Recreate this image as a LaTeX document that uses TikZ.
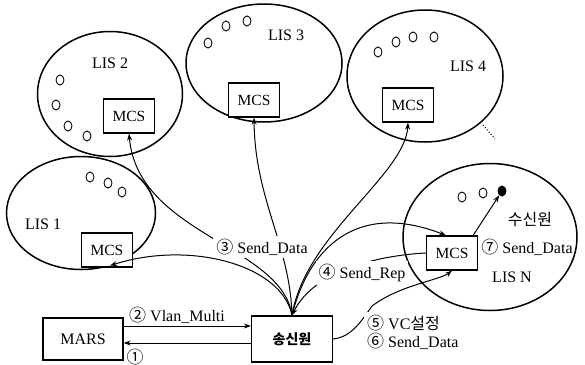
\documentclass[tikz,border=0pt]{standalone}
\usepackage{fontspec}
\setmainfont{Liberation Serif}
\newfontfamily\cjk{Noto Sans CJK KR}
\newcommand\cnum[1]{{\cjk\fontsize{17}{17}\selectfont #1}}
\usetikzlibrary{shapes.geometric,arrows.meta}

\begin{document}
\begin{tikzpicture}[x=1pt,y=-1pt,
  lis/.style={draw,ellipse,line width=1.5pt,inner sep=0pt},
  mcs/.style={draw,line width=1.2pt,fill=white,minimum width=51pt,minimum height=34pt,inner sep=0pt,font=\fontsize{15.5}{17}\selectfont},
  box/.style={draw,line width=1.2pt,fill=white,inner sep=0pt,font=\fontsize{16}{17}\selectfont},
  host/.style={draw,ellipse,line width=.9pt,minimum width=8pt,minimum height=10pt,inner sep=0pt},
  lbl/.style={font=\fontsize{16}{18}\selectfont,inner sep=1pt},
  msg/.style={lbl,fill=white,inner sep=3pt},
  arr/.style={line width=1pt,-{Stealth[length=7pt,width=5pt]}},
  ln/.style={line width=1pt}]
            \useasboundingbox (0,0) rectangle (585,364);
            \node[lis,minimum width=145pt,minimum height=125pt] (lis2) at (110,94) {};
            \node[lis,minimum width=156pt,minimum height=118pt] (lis3) at (264,63) {};
            \node[lis,minimum width=156pt,minimum height=132pt] (lis4) at (425,76) {};
            \node[lis,minimum width=149pt,minimum height=113pt] (lis1) at (81,213) {};
            \node[lis,minimum width=174pt,minimum height=147pt] (lisn) at (490,237) {};
            \draw[dotted,line width=1pt] (483,125) -- (495,139);
            \foreach \p [count=\i] in {(60,80),(56,105),(68,126),(87,136)}
                \node[host] (h2\i) at \p {};
            \foreach \p [count=\i] in {(208,43),(226,26),(247,21)}
                \node[host] (h3\i) at \p {};
            \foreach \p [count=\i] in {(378,52),(396,42),(413,37),(434,37)}
                \node[host] (h4\i) at \p {};
            \foreach \p [count=\i] in {(90,177),(108,183),(122,192)}
                \node[host] (h1\i) at \p {};
            \foreach \p [count=\i] in {(462,197),(483,193)}
                \node[host] (hn\i) at \p {};
            \node[host,fill=black] (rcv) at (502,191) {};
            \node[lbl] (t2) at (110,63) {LIS 2};
            \node[lbl] (t3) at (286,35) {LIS 3};
            \node[lbl] (t4) at (468,66) {LIS 4};
            \node[lbl] (t1) at (43,224) {LIS 1};
            \node[lbl] (tn) at (512,277) {LIS N};
            \node[lbl] (trcv) at (530,220) {\cjk 수신원};
            \node[mcs] (m2) at (129,116) {MCS};
            \node[mcs] (m3) at (254,100) {MCS};
            \node[mcs] (m4) at (408,105) {MCS};
            \node[mcs] (m1) at (107,250) {MCS};
            \node[mcs] (mn) at (452,253) {MCS};
            \node[box,minimum width=80pt,minimum height=42pt] (mars) at (83,339) {MARS};
            \node[box,minimum width=81pt,minimum height=46pt,font=\fontsize{14}{16}\selectfont] (snd) at (292,339) {\cjk\bfseries 송신원};
            \draw[arr] (snd.north) .. controls (282,245) and (138,235) .. (m2.south);
            \draw[arr] (snd.north) .. controls (290,245) and (255,200) .. (m3.south);
            \draw[arr] (snd.north) .. controls (305,235) and (405,175) .. (m4.south);
            \draw[arr] (snd.north) .. controls (308,250) and (355,200) .. ([xshift=-6pt]mn.north);
            \draw[arr] (mn.west) .. controls (385,255) and (315,268) .. (snd.north);
            \draw[arr] (snd.north) .. controls (282,265) and (190,240) .. ([xshift=3pt,yshift=2pt]m1.south);
            \draw[arr] ([yshift=13pt]mars.east) -- ([yshift=13pt]snd.west);
            \draw[arr] ([yshift=-4pt]snd.west) -- ([yshift=-4pt]mars.east);
            \coordinate (vc) at (372,306);
            \draw[arr] (snd.east) .. controls (352,337) and (362,320) .. (vc) .. controls (400,285) and (440,280) .. (mn.south);
            \draw[arr] ([xshift=-5pt]mn.north east) -- (rcv);
            \node[msg] (l3) at (262,247) {\cnum{③} Send\_Data};
            \node[msg] (l4) at (362,273) {\cnum{④} Send\_Rep};
            \node[msg,align=left,anchor=north west] (l56) at (364,312) {\cnum{⑤} VC{\cjk 설정}\\\cnum{⑥} Send\_Data};
            \node[lbl,anchor=west] (l2) at (128,315) {\cnum{②} Vlan\_Multi};
            \node[lbl] (l1) at (135,357) {\cnum{①}};
            \node[lbl] (l7) at (527,247) {\cnum{⑦} Send\_Data};
        \end{tikzpicture}
\end{document}
